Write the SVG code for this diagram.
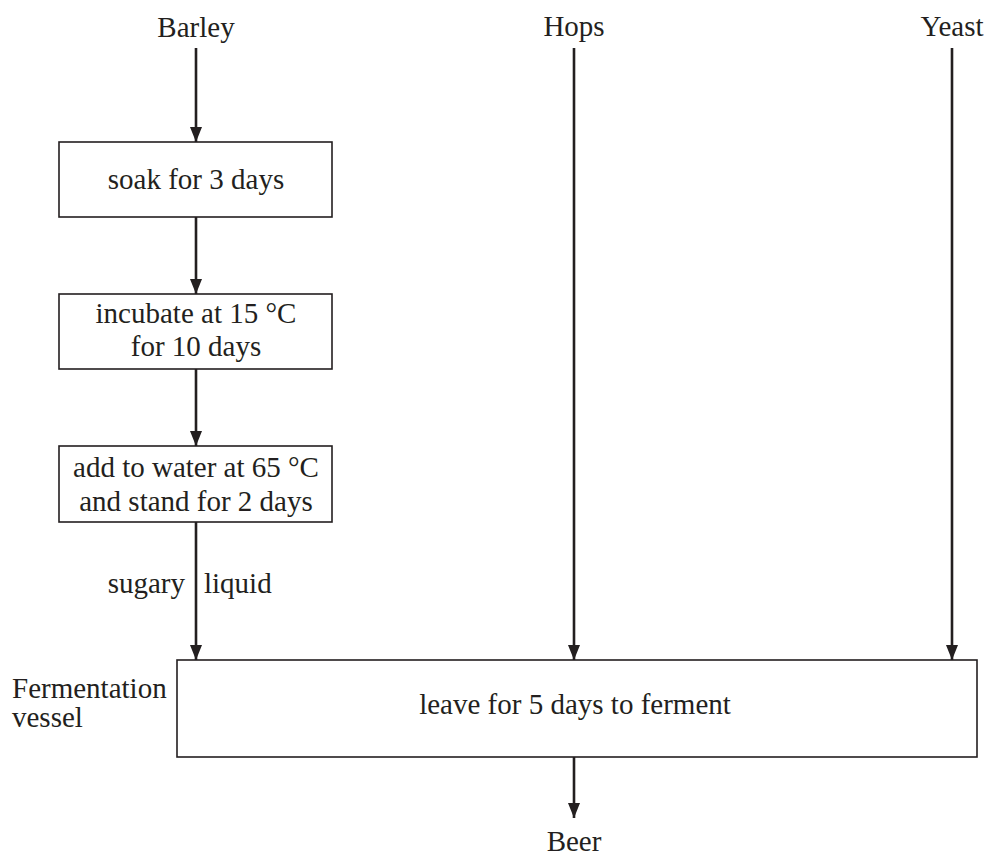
<svg xmlns="http://www.w3.org/2000/svg" width="988" height="862" viewBox="0 0 988 862">
<style>
text{font-family:"Liberation Serif","Tinos","Times New Roman","DejaVu Serif",serif;font-size:29px;fill:#231f20}
.c{text-anchor:middle}
.box{fill:#fff;stroke:#231f20;stroke-width:1.6}
.ln{stroke:#231f20;stroke-width:2.6;fill:none}
</style>
<defs>
<marker id="ah" markerWidth="15" markerHeight="12" refX="15" refY="6" orient="auto" markerUnits="userSpaceOnUse" viewBox="0 0 15 12">
<path d="M0,0 L15,6 L0,12 Z" fill="#231f20"/>
</marker>
</defs>
<rect width="988" height="862" fill="#fff"/>
<g id="connectors">
<line class="ln" x1="196" y1="48" x2="196" y2="142" marker-end="url(#ah)"/>
<line class="ln" x1="196" y1="217" x2="196" y2="294" marker-end="url(#ah)"/>
<line class="ln" x1="196" y1="369" x2="196" y2="446" marker-end="url(#ah)"/>
<line class="ln" x1="196" y1="522" x2="196" y2="660" marker-end="url(#ah)"/>
<line class="ln" x1="574" y1="48" x2="574" y2="660" marker-end="url(#ah)"/>
<line class="ln" x1="952" y1="48" x2="952" y2="660" marker-end="url(#ah)"/>
<line class="ln" x1="574" y1="757" x2="574" y2="818" marker-end="url(#ah)"/>
<text x="185" y="593" text-anchor="end">sugary</text>
<text x="204" y="593">liquid</text>
</g>
<g id="barley"><text class="c" x="196" y="37">Barley</text></g>
<g id="hops"><text class="c" x="574" y="36">Hops</text></g>
<g id="yeast"><text class="c" x="952" y="36">Yeast</text></g>
<g id="soak">
<rect class="box" x="59" y="142" width="273" height="75"/>
<text class="c" x="196" y="189">soak for 3 days</text>
</g>
<g id="incubate">
<rect class="box" x="59" y="294" width="273" height="75"/>
<text class="c" x="196" y="323">incubate at 15 °C</text>
<text class="c" x="196" y="356">for 10 days</text>
</g>
<g id="add">
<rect class="box" x="59" y="446" width="273" height="76"/>
<text class="c" x="196" y="477">add to water at 65 °C</text>
<text class="c" x="196" y="511">and stand for 2 days</text>
</g>
<g id="ferment">
<rect class="box" x="177" y="660" width="800" height="97"/>
<text class="c" x="575" y="714">leave for 5 days to ferment</text>
</g>
<g id="vessel-label">
<text x="12" y="698">Fermentation</text>
<text x="12" y="727">vessel</text>
</g>
<g id="beer"><text class="c" x="574" y="851">Beer</text></g>
</svg>
